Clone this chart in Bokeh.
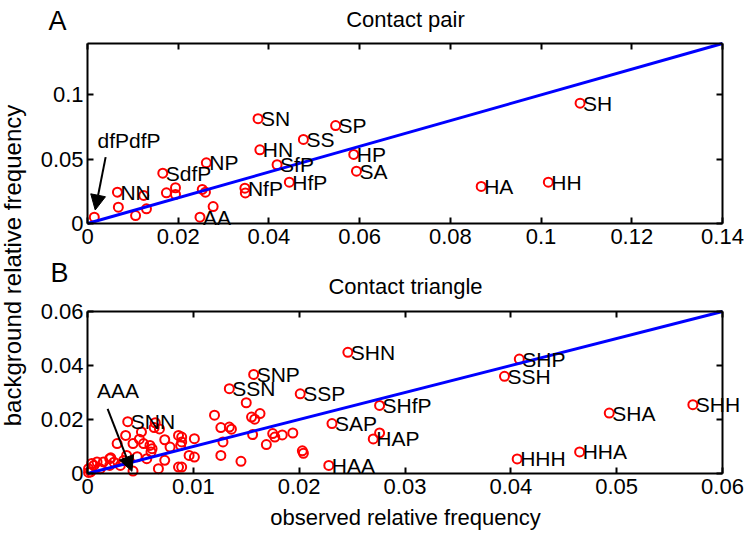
import math
from bokeh.plotting import figure
from bokeh.models import (FixedTicker, LinearAxis, Label, LabelSet, ColumnDataSource,
                          Arrow, NormalHead, Range1d)
from bokeh.core.properties import value
from bokeh.embed import file_html
from bokeh.resources import INLINE

FONT = "Liberation Sans"

# ---------------- Panel A: contact pair ----------------
pair_names = ["NN", "SdfP", "NP", "AA", "NfP", "SN", "HN", "SfP", "HfP", "SS",
              "SP", "HP", "SA", "SH", "HA", "HH"]
pair_obs = [0.0066, 0.0166, 0.0262, 0.0248, 0.0347, 0.0376, 0.0380, 0.0418, 0.0445, 0.0476,
            0.0547, 0.0587, 0.0593, 0.1086, 0.0868, 0.1016]
pair_bg = [0.0244, 0.0391, 0.0472, 0.0049, 0.0275, 0.0815, 0.0573, 0.0457, 0.0321, 0.0654,
           0.0762, 0.0537, 0.0407, 0.0936, 0.0288, 0.0321]
pair_other_obs = [0.0015, 0.0068, 0.0106, 0.0130, 0.0124, 0.0174, 0.0194, 0.0194, 0.0253,
                  0.0260, 0.0277, 0.0348]
pair_other_bg = [0.0049, 0.0127, 0.0062, 0.0114, 0.0218, 0.0239, 0.0278, 0.0226, 0.0265,
                 0.0244, 0.0132, 0.0238]
pair_diag = [0.0, 0.14]
pair_xticks = [0, 0.02, 0.04, 0.06, 0.08, 0.1, 0.12, 0.14]
pair_xlabels = ["0", "0.02", "0.04", "0.06", "0.08", "0.1", "0.12", "0.14"]
pair_yticks = [0, 0.05, 0.1]
pair_ylabels = ["0", "0.05", "0.1"]
pair_arrow = (0.0040, 0.0516, 0.0017, 0.0105)     # x_start, y_start, x_end, y_end
pair_arrow_text = ("dfPdfP", 0.0022, 0.0645)

# ---------------- Panel B: contact triangle ----------------
tri_names = ["SNN", "SSN", "SNP", "SHN", "SSP", "SAP", "SHfP", "HAP", "HAA",
             "SHP", "SSH", "SHA", "SHH", "HHH", "HHA"]
tri_obs = [0.0038, 0.0134, 0.0157, 0.0246, 0.0201, 0.0231, 0.0276, 0.0270, 0.0228,
           0.0408, 0.0394, 0.0493, 0.0572, 0.0406, 0.0465]
tri_bg = [0.0192, 0.0314, 0.0367, 0.0449, 0.0295, 0.0185, 0.0252, 0.0128, 0.0030,
          0.0424, 0.0360, 0.0224, 0.0255, 0.0054, 0.0080]
tri_other_obs = [0.0043, 0.0064, 0.0063, 0.0036, 0.0051, 0.0028, 0.0043, 0.0053, 0.0061, 0.0059,
                 0.0073, 0.0086, 0.0088, 0.0073, 0.0086, 0.0067, 0.0056, 0.0037, 0.0021, 0.0015,
                 0.0009, 0.0004, 0.0001, 0.0003, 0.0012, 0.0021, 0.0031, 0.0060, 0.0150, 0.0120,
                 0.0155, 0.0158, 0.0163, 0.0126, 0.0134, 0.0136, 0.0156, 0.0175, 0.0177, 0.0169,
                 0.0128, 0.0101, 0.0089, 0.0089, 0.0096, 0.0101, 0.0126, 0.0145, 0.0089, 0.0184,
                 0.0194, 0.0203, 0.0204, 0.0276, 0.0025, 0.0022, 0.0006, 0.0068, 0.0001, 0.0047,
                 0.0034, 0.0078, 0.0049]
tri_other_bg = [0.0009, 0.0188, 0.0170, 0.0141, 0.0154, 0.0111, 0.0111, 0.0111, 0.0092, 0.0104,
                0.0125, 0.0141, 0.0104, 0.0049, 0.0024, 0.0018, 0.0055, 0.0067, 0.0055, 0.0043,
                0.0043, 0.0037, 0.0018, 0.0006, 0.0018, 0.0030, 0.0030, 0.0080, 0.0262, 0.0216,
                0.0209, 0.0201, 0.0222, 0.0170, 0.0172, 0.0164, 0.0144, 0.0148, 0.0135, 0.0107,
                0.0117, 0.0129, 0.0135, 0.0117, 0.0067, 0.0061, 0.0067, 0.0045, 0.0024, 0.0143,
                0.0150, 0.0084, 0.0075, 0.0150, 0.0042, 0.0058, 0.0030, 0.0165, 0.0004, 0.0062,
                0.0048, 0.0098, 0.0127]
tri_diag = [0.0, 0.06]
tri_xticks = [0, 0.01, 0.02, 0.03, 0.04, 0.05, 0.06]
tri_xlabels = ["0", "0.01", "0.02", "0.03", "0.04", "0.05", "0.06"]
tri_yticks = [0, 0.02, 0.04, 0.06]
tri_ylabels = ["0", "0.02", "0.04", "0.06"]
tri_arrow = (0.0019, 0.0239, 0.0042, 0.0008)
tri_arrow_text = ("AAA", 0.0009, 0.0307)

# ---------------- layout (pixels from top-left of the canvas) ----------------
W, H = 747, 535
BOX_A = (87, 722, 43, 223)      # left, right, top, bottom
BOX_B = (87, 722, 311, 473)
TICK_FS = "22px"
LAB_FS = "21px"


def rng(vmax, p0, p1, total):
    """Range whose value 0 lies at pixel p0 and vmax at pixel p1 (pixels counted from start)."""
    k = vmax / (p1 - p0)
    start = -p0 * k
    return Range1d(start, start + total * k)


def xr(box, vmax):
    return rng(vmax, box[0], box[1], W)


def yr(box, vmax):
    return rng(vmax, H - box[3], H - box[2], H)


p = figure(width=W, height=H, x_range=xr(BOX_A, 0.14), y_range=yr(BOX_A, 0.14),
           x_axis_type=None, y_axis_type=None, min_border=0,
           output_backend="svg", toolbar_location=None)
p.outline_line_color = None
p.extra_x_ranges = {"bx": xr(BOX_B, 0.06), "px": Range1d(0, W)}
p.extra_y_ranges = {"by": yr(BOX_B, 0.06), "py": Range1d(0, H)}


def make_axis(side, rx, ry, loc, bounds, ticks, labels, show):
    ax = LinearAxis(x_range_name=rx, y_range_name=ry, fixed_location=loc, bounds=bounds)
    ax.ticker = FixedTicker(ticks=ticks)
    ax.major_label_overrides = {t: l for t, l in zip(ticks, labels)}
    ax.major_tick_in = 6
    ax.major_tick_out = 0
    ax.minor_tick_in = 0
    ax.minor_tick_out = 0
    ax.axis_line_width = 2
    ax.axis_line_color = "black"
    ax.major_tick_line_width = 2
    ax.major_tick_line_color = "black"
    ax.major_label_text_font = FONT
    ax.major_label_text_color = "black" if show else None
    ax.major_label_text_font_size = TICK_FS
    ax.major_label_standoff = 5 if side in ("below", "above") else 4
    p.add_layout(ax, side)


def panel(rx, ry, vmax_x, vmax_y, xticks, xlabels, yticks, ylabels,
          ox, oy, lx, ly, names, diag, arrow, arrow_text):
    make_axis("below", rx, ry, 0, (0, vmax_x), xticks, xlabels, True)
    make_axis("above", rx, ry, vmax_y, (0, vmax_x), xticks, xlabels, False)
    make_axis("left", rx, ry, 0, (0, vmax_y), yticks, ylabels, True)
    make_axis("right", rx, ry, vmax_x, (0, vmax_y), yticks, ylabels, False)
    kw = dict(x_range_name=rx, y_range_name=ry)
    p.scatter(ox, oy, marker="circle", size=9, fill_color=None, line_color="#FF0000",
              line_width=2, **kw)
    p.scatter(lx, ly, marker="circle", size=9, fill_color=None, line_color="#FF0000",
              line_width=2, **kw)
    p.line(diag, diag, line_color="#0000FF", line_width=3, **kw)
    src = ColumnDataSource(dict(x=lx, y=ly, t=names))
    p.add_layout(LabelSet(x="x", y="y", text="t", source=src, x_offset=3,
                          text_baseline="middle", text_font=value(FONT),
                          text_font_size=LAB_FS, text_color="black", **kw))
    p.add_layout(Label(x=arrow_text[1], y=arrow_text[2], text=arrow_text[0],
                       text_align="left", text_baseline="alphabetic", text_font=FONT,
                       text_font_size=LAB_FS, text_color="black", **kw))
    p.add_layout(Arrow(end=NormalHead(size=15, fill_color="black", line_color="black"),
                       x_start=arrow[0], y_start=arrow[1], x_end=arrow[2], y_end=arrow[3],
                       line_width=2, line_color="black", **kw))


panel("default", "default", 0.14, 0.14, pair_xticks, pair_xlabels, pair_yticks, pair_ylabels,
      pair_other_obs, pair_other_bg, pair_obs, pair_bg, pair_names, pair_diag,
      pair_arrow, pair_arrow_text)
panel("bx", "by", 0.06, 0.06, tri_xticks, tri_xlabels, tri_yticks, tri_ylabels,
      tri_other_obs, tri_other_bg, tri_obs, tri_bg, tri_names, tri_diag,
      tri_arrow, tri_arrow_text)


def pix_label(text, x, y_top, size, align="left", baseline="alphabetic", angle=0.0):
    p.add_layout(Label(x=x, y=H - y_top, text=text, x_range_name="px", y_range_name="py",
                       text_align=align, text_baseline=baseline, angle=angle,
                       text_font=FONT, text_font_size=size, text_color="black"))


pix_label("A", 48, 20, "27px")
pix_label("Contact pair", 405, 19, "22px", align="center")
pix_label("B", 50, 272, "27px")
pix_label("Contact triangle", 405, 286, "22px", align="center")
pix_label("observed relative frequency", 405, 517, "22px", align="center")
pix_label("background relative frequency", 12, 265, "24px", align="center",
          baseline="middle", angle=math.pi / 2)

open("out.html", "w").write(file_html(p, INLINE))
